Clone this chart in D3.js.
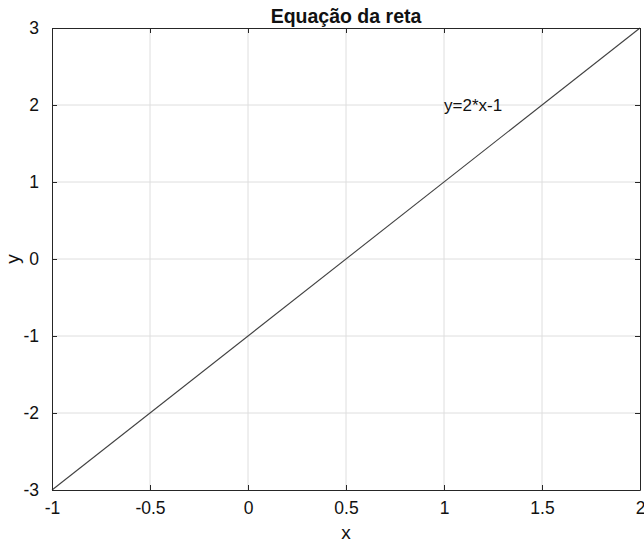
<!DOCTYPE html>
<html>
<head>
<meta charset="utf-8">
<script src="https://cdn.jsdelivr.net/npm/d3@7"></script>
<style>
  body { margin: 0; background: #fff; }
  text { font-family: "Liberation Sans", Arial, sans-serif; }
</style>
</head>
<body>
<div id="chart"></div>
<script>
// line end points and ticks
const lineX = [-1, 2];
const lineY = [-3, 3];
const xTicks = [-1, -0.5, 0, 0.5, 1, 1.5, 2];
const yTicks = [-3, -2, -1, 0, 1, 2, 3];
const titleText = 'Equação da reta';
const labelText = 'y=2*x-1';
const labelPos = [1, 2];

const width = 644;
const height = 546;
const margin = {top: 28, right: 4, bottom: 56, left: 52};

const svg = d3.select('#chart')
    .append('svg')
    .attr('width', width)
    .attr('height', height);

const x = d3.scaleLinear()
    .domain([-1, 2])
    .range([margin.left, width - margin.right]);
const y = d3.scaleLinear()
    .domain([-3, 3])
    .range([height - margin.bottom, margin.top]);

// grid
svg.append('g')
    .selectAll('line')
    .data(xTicks.slice(1, -1))
    .join('line')
        .attr('x1', d => x(d)).attr('x2', d => x(d))
        .attr('y1', y(-3)).attr('y2', y(3))
        .attr('stroke', '#dedede');
svg.append('g')
    .selectAll('line')
    .data(yTicks.slice(1, -1))
    .join('line')
        .attr('y1', d => y(d)).attr('y2', d => y(d))
        .attr('x1', x(-1)).attr('x2', x(2))
        .attr('stroke', '#dedede');

// the line
const line = d3.line()
    .x(d => x(d[0]))
    .y(d => y(d[1]));
svg.append('path')
    .attr('d', line(lineX.map((d, i) => [d, lineY[i]])))
    .attr('fill', 'none')
    .attr('stroke', '#404040')
    .attr('stroke-width', 1.1);

// axes, ticks pointing inward
const axisStyle = g => {
    g.select('.domain').attr('stroke', '#262626');
    g.selectAll('.tick line').attr('stroke', '#262626');
    g.selectAll('text').attr('fill', '#111').style('font-size', '17.5px')
        .style('font-family', '"Liberation Sans", Arial, sans-serif');
};

svg.append('g')
    .attr('transform', `translate(0,${y(-3)})`)
    .call(d3.axisBottom(x).tickValues(xTicks).tickFormat(d => d).tickSize(-5).tickSizeOuter(0).tickPadding(12))
    .call(axisStyle);
svg.append('g')
    .attr('transform', `translate(0,${y(3)})`)
    .call(d3.axisTop(x).tickValues(xTicks).tickFormat('').tickSize(-5).tickSizeOuter(0))
    .call(axisStyle);
svg.append('g')
    .attr('transform', `translate(${x(-1)},0)`)
    .call(d3.axisLeft(y).tickValues(yTicks).tickFormat(d => d).tickSize(-5).tickSizeOuter(0).tickPadding(13))
    .call(axisStyle);
svg.append('g')
    .attr('transform', `translate(${x(2)},0)`)
    .call(d3.axisRight(y).tickValues(yTicks).tickFormat('').tickSize(-5).tickSizeOuter(0))
    .call(axisStyle);

// text annotation
svg.append('text')
    .attr('x', x(labelPos[0]))
    .attr('y', y(labelPos[1]) + 6)
    .style('font-size', '17px')
    .attr('fill', '#111')
    .text(labelText);

// title
svg.append('text')
    .attr('x', (x(-1) + x(2)) / 2)
    .attr('y', 23)
    .attr('text-anchor', 'middle')
    .style('font-size', '19.5px')
    .style('font-weight', 'bold')
    .attr('fill', '#111')
    .text(titleText);

// axis labels
svg.append('text')
    .attr('x', (x(-1) + x(2)) / 2)
    .attr('y', 539)
    .attr('text-anchor', 'middle')
    .style('font-size', '19px')
    .attr('fill', '#111')
    .text('x');
svg.append('text')
    .attr('transform', `translate(19,${(y(-3) + y(3)) / 2}) rotate(-90)`)
    .attr('text-anchor', 'middle')
    .style('font-size', '19px')
    .attr('fill', '#111')
    .text('y');
</script>
</body>
</html>
